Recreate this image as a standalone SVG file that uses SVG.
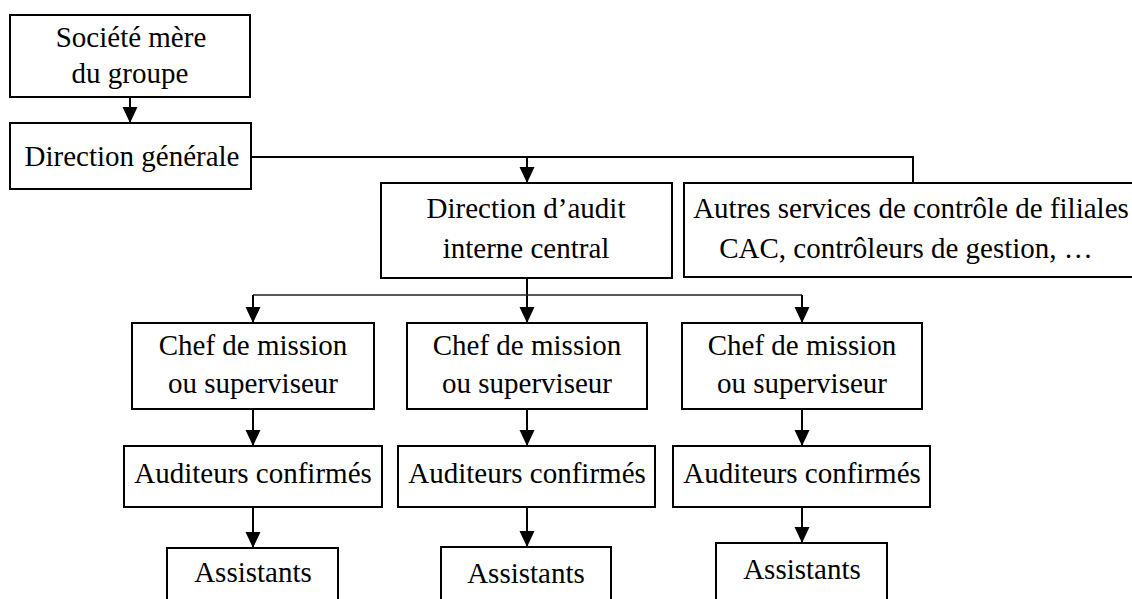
<svg xmlns="http://www.w3.org/2000/svg" width="1132" height="599" viewBox="0 0 1132 599">
  <style>
    .box { fill: #ffffff; stroke: #000000; stroke-width: 2; }
    .lbl { font-family: "Liberation Serif", "Times New Roman", serif; font-size: 29px; fill: #000000; text-anchor: middle; }
    .wire { fill: none; stroke: #000000; stroke-width: 2; }
    .thin { fill: none; stroke: #222222; stroke-width: 1.4; }
    .arrow { fill: none; stroke: #000000; stroke-width: 2; marker-end: url(#head); }
  </style>
  <defs>
    <marker id="head" markerUnits="userSpaceOnUse" markerWidth="18" markerHeight="16" refX="16" refY="7.5" orient="auto">
      <path d="M0,0 L16,7.5 L0,15 Z" fill="#000000"/>
    </marker>
  </defs>

  <rect width="1132" height="599" fill="#ffffff"/>

  <!-- connectors -->
  <g id="connectors">
    <line class="arrow" x1="130" y1="97" x2="130" y2="123"/>
    <path class="wire" d="M251,157 H913 V183"/>
    <line class="arrow" x1="527" y1="157" x2="527" y2="183"/>
    <line class="arrow" x1="527" y1="278" x2="527" y2="323"/>
    <path class="thin" d="M253,295 H802"/>
    <line class="arrow" x1="253" y1="295" x2="253" y2="323"/>
    <line class="arrow" x1="802" y1="295" x2="802" y2="323"/>
    <line class="arrow" x1="253" y1="409" x2="253" y2="446"/>
    <line class="arrow" x1="527" y1="409" x2="527" y2="446"/>
    <line class="arrow" x1="802" y1="409" x2="802" y2="446"/>
    <line class="arrow" x1="253" y1="507" x2="253" y2="548"/>
    <line class="arrow" x1="527" y1="507" x2="527" y2="547"/>
    <line class="arrow" x1="802" y1="507" x2="802" y2="543"/>
  </g>

  <g id="societe-mere">
    <rect class="box" x="10" y="15" width="240" height="82"/>
    <text class="lbl" x="131" y="47">Société mère</text>
    <text class="lbl" x="130" y="83">du groupe</text>
  </g>

  <g id="direction-generale">
    <rect class="box" x="10" y="123" width="241" height="66"/>
    <text class="lbl" x="132" y="166">Direction générale</text>
  </g>

  <g id="direction-audit">
    <rect class="box" x="381" y="183" width="291" height="95"/>
    <text class="lbl" x="526" y="218">Direction d’audit</text>
    <text class="lbl" x="526" y="258">interne central</text>
  </g>

  <g id="autres-services">
    <rect class="box" x="684" y="183" width="470" height="94"/>
    <text class="lbl" x="911" y="218">Autres services de contrôle de filiales</text>
    <text class="lbl" x="906" y="258">CAC, contrôleurs de gestion, …</text>
  </g>

  <g id="chef-1">
    <rect class="box" x="132" y="323" width="242" height="86"/>
    <text class="lbl" x="253" y="355">Chef de mission</text>
    <text class="lbl" x="253" y="393">ou superviseur</text>
  </g>
  <g id="chef-2">
    <rect class="box" x="407" y="323" width="240" height="86"/>
    <text class="lbl" x="527" y="355">Chef de mission</text>
    <text class="lbl" x="527" y="393">ou superviseur</text>
  </g>
  <g id="chef-3">
    <rect class="box" x="682" y="323" width="240" height="86"/>
    <text class="lbl" x="802" y="355">Chef de mission</text>
    <text class="lbl" x="802" y="393">ou superviseur</text>
  </g>

  <g id="auditeurs-1">
    <rect class="box" x="124" y="446" width="258" height="61"/>
    <text class="lbl" x="253" y="483">Auditeurs confirmés</text>
  </g>
  <g id="auditeurs-2">
    <rect class="box" x="398" y="446" width="257" height="61"/>
    <text class="lbl" x="527" y="483">Auditeurs confirmés</text>
  </g>
  <g id="auditeurs-3">
    <rect class="box" x="673" y="446" width="257" height="61"/>
    <text class="lbl" x="802" y="483">Auditeurs confirmés</text>
  </g>

  <g id="assistants-1">
    <rect class="box" x="167" y="548" width="171" height="62"/>
    <text class="lbl" x="253" y="582">Assistants</text>
  </g>
  <g id="assistants-2">
    <rect class="box" x="441" y="547" width="170" height="63"/>
    <text class="lbl" x="526" y="583">Assistants</text>
  </g>
  <g id="assistants-3">
    <rect class="box" x="716" y="543" width="171" height="67"/>
    <text class="lbl" x="802" y="579">Assistants</text>
  </g>
</svg>
